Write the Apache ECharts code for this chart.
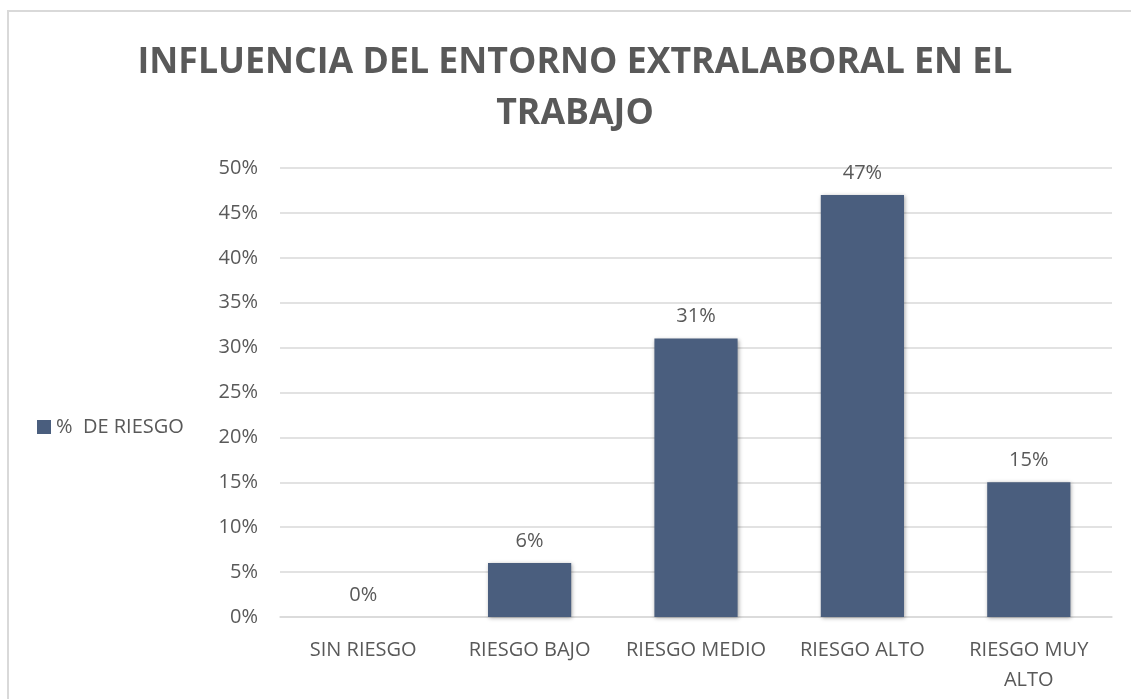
<!DOCTYPE html>
<html>
<head>
<meta charset="utf-8">
<script src="https://cdn.jsdelivr.net/npm/echarts@6/dist/echarts.min.js"></script>
<style>
html,body{margin:0;padding:0;background:#fff;}
#container{width:1131px;height:699px;}
</style>
</head>
<body>
<div id="container"></div>
<script>
// datos del gráfico
var categorias = ['SIN RIESGO', 'RIESGO BAJO', 'RIESGO MEDIO', 'RIESGO ALTO', 'RIESGO MUY\nALTO'];
var porcentajes = [0, 6, 31, 47, 15];
var nombreSerie = '%  DE RIESGO';
var ticksY = [0, 5, 10, 15, 20, 25, 30, 35, 40, 45, 50];

var dom = document.getElementById("container");
var myChart = echarts.init(dom);
var gris = '#595959';
var option = {
    backgroundColor: '#fff',
    textStyle: {fontFamily: 'Open Sans'},
    graphic: [{
        type: 'rect',
        shape: {x: 8, y: 11, width: 1140, height: 700},
        style: {fill: 'none', stroke: '#d9d9d9', lineWidth: 2},
        silent: true
    }],
    title: {
        text: 'INFLUENCIA DEL ENTORNO EXTRALABORAL EN EL\nTRABAJO',
        left: 570,
        top: 32,
        textAlign: 'center',
        textStyle: {color: gris, fontSize: 35.7, fontWeight: 'bold', lineHeight: 51, fontFamily: 'Open Sans'}
    },
    legend: {
        left: 32,
        top: 412,
        orient: 'vertical',
        icon: 'rect',
        itemWidth: 14,
        itemHeight: 14,
        itemGap: 4,
        textStyle: {color: gris, fontSize: 20},
        data: [nombreSerie]
    },
    grid: {left: 280, right: 19, top: 168, bottom: 82},
    xAxis: {
        type: 'category',
        data: categorias,
        axisLine: {lineStyle: {color: '#d9d9d9', width: 1.5}},
        axisTick: {show: false},
        axisLabel: {color: gris, fontSize: 20, margin: 18, lineHeight: 30, interval: 0}
    },
    yAxis: {
        type: 'value',
        min: ticksY[0],
        max: ticksY[ticksY.length - 1],
        interval: 5,
        axisLine: {show: false},
        axisTick: {show: false},
        splitLine: {lineStyle: {color: '#d9d9d9', width: 1.5}},
        axisLabel: {color: gris, fontSize: 20, margin: 22, formatter: '{value}%'}
    },
    series: [{
        name: nombreSerie,
        type: 'bar',
        data: porcentajes,
        barWidth: '50%',
        itemStyle: {color: '#4a5e7e', shadowColor: 'rgba(0,0,0,0.35)', shadowBlur: 4, shadowOffsetX: 1, shadowOffsetY: 1},
        label: {show: true, position: 'top', distance: 12, color: gris, fontSize: 20, formatter: '{c}%'}
    }]
};
myChart.setOption(option, true);
</script>
</body>
</html>
